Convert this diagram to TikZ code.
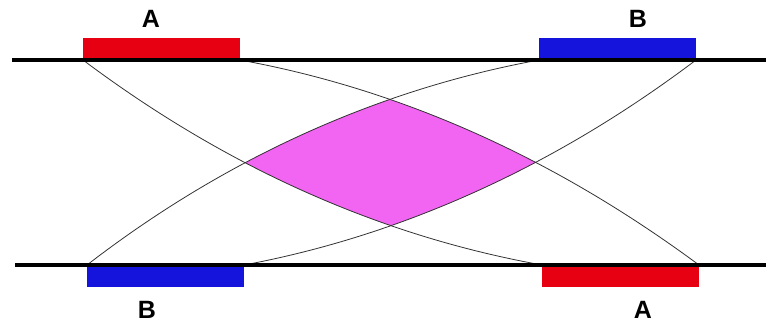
\documentclass[tikz,border=0pt]{standalone}
\usepackage{fontspec}
\setmainfont{Liberation Sans}
\definecolor{barred}{RGB}{230,0,18}
\definecolor{barblue}{RGB}{20,20,220}
\definecolor{lens}{RGB}{242,100,242}
\begin{document}
\begin{tikzpicture}[x=1pt,y=-1pt,
  bar/.style={rectangle,inner sep=0pt,outer sep=0pt,minimum width=157pt,minimum height=22pt},
  lbl/.style={font=\bfseries\fontsize{25}{25}\selectfont,inner sep=0pt},
  rail/.style={line width=3.2pt},
  ray/.style={line width=0.8pt,draw=black!80}]
\useasboundingbox (0,0) rectangle (766,334);
% bars
\node[bar,fill=barred,anchor=south west] (rTop) at (83,60) {};
\node[bar,fill=barblue,anchor=south west] (bTop) at (539,60) {};
\node[bar,fill=barblue,anchor=north west] (bBot) at (87,265) {};
\node[bar,fill=barred,anchor=north west] (rBot) at (542,265) {};
% labels
\node[lbl] (lAtop) at (151,19) {A};
\node[lbl] (lBtop) at (638,19) {B};
\node[lbl] (lBbot) at (147,310) {B};
\node[lbl] (lAbot) at (643,310) {A};
% lens fill
\begin{scope}
\clip (rTop.south west) .. controls (226.1,167.3) and (379.1,235.7) .. (rBot.north west) -- (800,265) -- (800,60) -- cycle;
\clip (rTop.south east) .. controls (400.9,89.3) and (553.9,157.7) .. (rBot.north east) -- (-20,265) -- (-20,60) -- cycle;
\clip (bTop.south west) .. controls (379.1,89.3) and (226.1,157.7) .. (bBot.north west) -- (800,265) -- (800,60) -- cycle;
\clip (bTop.south east) .. controls (553.9,167.3) and (400.9,235.7) .. (bBot.north east) -- (-20,265) -- (-20,60) -- cycle;
\fill[lens] (0,0) rectangle (766,334);
\end{scope}
% rays
\draw[ray] (rTop.south west) .. controls (226.1,167.3) and (379.1,235.7) .. (rBot.north west);
\draw[ray] (rTop.south east) .. controls (400.9,89.3) and (553.9,157.7) .. (rBot.north east);
\draw[ray] (bTop.south west) .. controls (379.1,89.3) and (226.1,157.7) .. (bBot.north west);
\draw[ray] (bTop.south east) .. controls (553.9,167.3) and (400.9,235.7) .. (bBot.north east);
% rails
\coordinate (tL) at (12,60);
\coordinate (tR) at (766,60);
\coordinate (bL) at (15,265);
\coordinate (bR) at (766,265);
\draw[rail] (tL) -- (tR);
\draw[rail] (bL) -- (bR);
\end{tikzpicture}
\end{document}
